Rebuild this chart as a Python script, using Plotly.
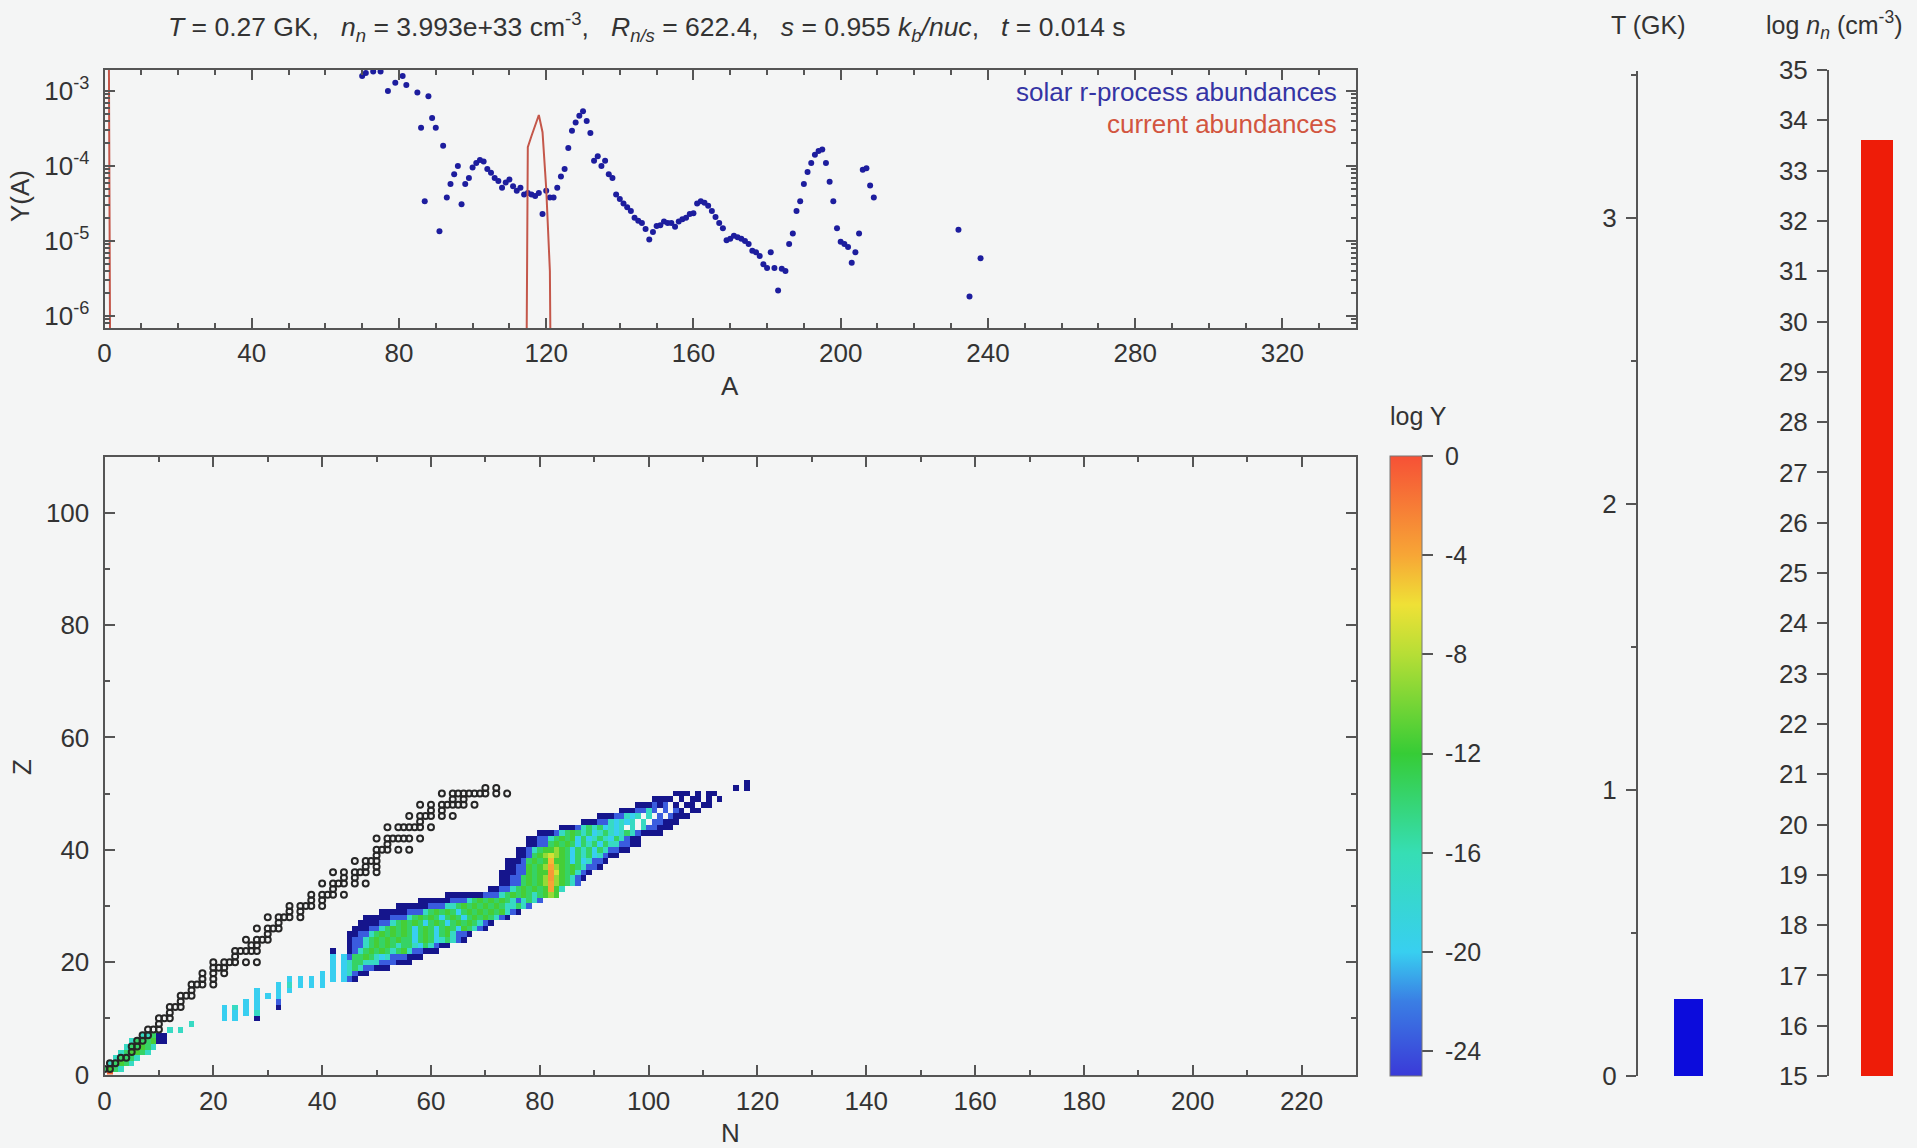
import math
import plotly.graph_objects as go

W, H = 1917, 1148
FONT = "Liberation Sans, Arial, Helvetica, sans-serif"
BG = "#f4f5f5"
AX = "#555555"
TXT = "#333333"

# ---------------- header quantities ----------------
T_GK = 0.27
NN_CM3 = 3.993e33
R_NS = 622.4
S_KB = 0.955
T_SEC = 0.014

# ---------------- solar r-process abundances (log10 Y) ----------------
SOLAR_A = [70, 71, 73, 75, 77, 79, 81, 82, 85, 86, 87, 88, 89, 90, 91, 92, 93, 94, 95, 96,
           97, 98, 99, 100, 101, 102, 103, 104, 105, 106, 107, 108, 109, 110, 111, 112, 113,
           114, 115, 116, 117, 118, 119, 120, 121, 122, 123, 124, 125, 126, 127, 128, 129,
           130, 131, 132, 133, 134, 135, 136, 137, 138, 139, 140, 141, 142, 143, 144, 145,
           146, 147, 148, 149, 150, 151, 152, 153, 154, 155, 156, 157, 158, 159, 160, 161,
           162, 163, 164, 165, 166, 167, 168, 169, 170, 171, 172, 173, 174, 175, 176, 177,
           178, 179, 180, 181, 182, 183, 184, 185, 186, 187, 188, 189, 190, 191, 192, 193,
           194, 195, 196, 197, 198, 199, 200, 201, 202, 203, 204, 205, 206, 207, 208, 209,
           232, 235, 238]
SOLAR_LOGY = [-2.80, -2.76, -2.74, -2.74, -3.00, -2.89, -2.80, -2.92, -3.02, -3.49, -4.47,
              -3.07, -3.36, -3.49, -4.87, -3.73, -4.42, -4.24, -4.11, -4.00, -4.51, -4.24,
              -4.16, -4.02, -3.96, -3.92, -3.94, -4.04, -4.09, -4.16, -4.20, -4.29, -4.22,
              -4.18, -4.27, -4.33, -4.29, -4.38, -4.36, -4.38, -4.40, -4.36, -4.64, -4.33,
              -4.42, -4.42, -4.29, -4.14, -4.04, -3.76, -3.53, -3.42, -3.33, -3.27, -3.40,
              -3.56, -3.93, -3.87, -4.00, -3.93, -4.11, -4.16, -4.38, -4.44, -4.50, -4.55,
              -4.60, -4.69, -4.73, -4.76, -4.84, -4.98, -4.88, -4.80, -4.79, -4.74, -4.76,
              -4.76, -4.81, -4.74, -4.71, -4.69, -4.64, -4.63, -4.50, -4.47, -4.49, -4.53,
              -4.60, -4.68, -4.76, -4.83, -4.99, -4.97, -4.93, -4.95, -4.97, -5.00, -5.04,
              -5.13, -5.15, -5.20, -5.31, -5.36, -5.15, -5.36, -5.66, -5.37, -5.40, -5.04,
              -4.90, -4.60, -4.47, -4.24, -4.08, -3.96, -3.85, -3.80, -3.78, -3.96, -4.21,
              -4.47, -4.83, -5.01, -5.04, -5.08, -5.29, -5.15, -4.90, -4.05, -4.03, -4.26,
              -4.42, -4.85, -5.74, -5.23]

# ---------------- current abundances (log10 Y) ----------------
CUR_A = [1, 2, 114, 115, 116, 117, 118, 119, 120, 121, 122]
CUR_LOGY = [-0.3, -12.0, -12.0, -3.75, -3.60, -3.45, -3.32, -3.55, -4.30, -5.40, -12.0]

# ---------------- nuclear chart: log Y per cell ----------------
LOGY_CODE = {"n": -27.0, "b": -23.5, "c": -20.0, "t": -17.0, "g": -13.5, "G": -11.5,
             "y": -9.0, "Y": -7.0, "O": -4.6, "o": -3.8, "r": -3.3, "R": -1.0}
# (Z, first N, one code per successive N; '.' = empty)
HEAT_ROWS = [
    (0, 1, "R"),
    (1, 0, "gGgt"),
    (2, 1, "tgGgt"),
    (3, 2, "tgggt"),
    (4, 3, "tgGGgt"),
    (5, 4, "tggGgt"),
    (6, 5, "tgggGnn"),
    (7, 7, "ttgnn"),
    (8, 12, "t.t"),
    (9, 16, "t"),
    (10, 22, "c.c...n"),
    (11, 22, "c.c.c.t"),
    (12, 22, "c.t.c.c...n"),
    (13, 26, "c.c...b"),
    (14, 28, "c.c.c"),
    (15, 28, "c...c.c"),
    (16, 32, "c.t.c.c.c"),
    (17, 34, "c.c.c.c.c.cbn"),
    (18, 40, "c.c.ctbnn"),
    (19, 42, "c.ctgtbbnnn"),
    (20, 42, "c.ctggtttbbbnnn"),
    (21, 42, "c.cbggGgtctbbbnnn"),
    (22, 42, "n..nbtgGgGgtgGtbbnnn"),
    (23, 45, "nbbtgGgGgtggtcgtbnn"),
    (24, 45, "nbbtgGgGgGggcgGgctgtbn"),
    (25, 45, "nnbbtgGgGgGgcgGgcgGtbbn"),
    (26, 46, "nnnbbtgGgGgcgGgcgGgcGgtbn"),
    (27, 47, "nnnnbbtgGgGgcgGgcgGgGgtbn"),
    (28, 48, "nnnnnbbbtgGgGgcgGgcgGgGgtbn"),
    (29, 51, "nnnnnbbbtgGgGgcgGgGgGgGtbn"),
    (30, 54, "nnnnnnbbbttgGgGgGgGgttgtb"),
    (31, 58, "nnnnnnbbbtgGgGgGgtbtgtb"),
    (32, 63, "nnnnnnnbbbtgGgGgtgGyG"),
    (33, 71, "nnbbtgGgGgGoGt"),
    (34, 73, "nnbbgGgGyoyGgtb"),
    (35, 73, "nnbbgGgGyryGgtbn"),
    (36, 73, "nnnbbGgGGrYGgGtbn"),
    (37, 74, "nnbbGgGyoyGgGgtbbn"),
    (38, 74, "nnnbgGgGOGGgcgctbbn"),
    (39, 76, "nnbgGyYyGgcgtgctbnn"),
    (40, 76, "nnbtgGGyGgcgtgcgtbbnn"),
    (41, 78, "nnbbgGgGgcgtgcgttbbnn"),
    (42, 78, "nnbbtgGgGcgctgtcgtbnn"),
    (43, 80, "nnnbtgGgtgctgtctgtbnnnn"),
    (44, 84, "nnnbtgtgctct.t.tbbnnn"),
    (45, 88, "nnnbbtctct.t.bbnnn"),
    (46, 91, "nnnbbtct.t.b.bnnn"),
    (47, 95, "nnnbbtb.b.bn.nn"),
    (48, 98, "nnnbnb.n.nn.nn"),
    (49, 101, "nnnn.n.nn.n.n"),
    (50, 105, "nnn.n.nn"),
    (51, 116, "n.n"),
    (52, 118, "n"),
]

# ---------------- stable nuclei (black circles) ----------------
STABLE_Z = list(range(1, 52))
STABLE_N = [[0, 1], [1, 2], [3, 4], [5], [5, 6], [6, 7], [7, 8], [8, 9, 10], [10], [10, 11, 12],
            [12], [12, 13, 14], [14], [14, 15, 16], [16], [16, 17, 18, 20], [18, 20], [18, 20, 22],
            [20, 21, 22], [20, 22, 23, 24, 26, 28], [24], [24, 25, 26, 27, 28], [27, 28],
            [26, 28, 29, 30], [30], [28, 30, 31, 32], [32], [30, 32, 33, 34, 36], [34, 36],
            [34, 36, 37, 38, 40], [38, 40], [38, 40, 41, 42, 44], [42], [40, 42, 43, 44, 46, 48],
            [44, 46], [42, 44, 46, 47, 48, 50], [48, 50], [46, 48, 49, 50], [50],
            [50, 51, 52, 54, 56], [52], [50, 52, 53, 54, 55, 56, 58], [],
            [52, 54, 55, 56, 57, 58, 60], [58], [56, 58, 59, 60, 62, 64], [60, 62],
            [58, 60, 62, 63, 64, 65, 66, 68], [64, 66], [62, 64, 65, 66, 67, 68, 69, 70, 72, 74],
            [70, 72]]

# ---------------- ticks ----------------
A_TICKS = [0, 40, 80, 120, 160, 200, 240, 280, 320]
Y_TICKS = [1e-6, 1e-5, 1e-4, 1e-3]
Y_TICKTEXT = ["10<sup>-6</sup>", "10<sup>-5</sup>", "10<sup>-4</sup>", "10<sup>-3</sup>"]
N_TICKS = list(range(0, 221, 20))
Z_TICKS = list(range(0, 101, 20))
CB_TICKS = [0, -4, -8, -12, -16, -20, -24]
T_TICKS = [0, 1, 2, 3]
NN_TICKS = list(range(15, 36))

# ---------------- build heat matrices ----------------
NMAX, ZMAX = 125, 55
z_main = [[None] * (NMAX + 1) for _ in range(ZMAX + 1)]
z_low = [[None] * (NMAX + 1) for _ in range(ZMAX + 1)]
for zz, n0, codes in HEAT_ROWS:
    for i, ch in enumerate(codes):
        if ch == ".":
            continue
        v = LOGY_CODE[ch]
        if v < -25:
            z_low[zz][n0 + i] = 1
        else:
            z_main[zz][n0 + i] = v

st_n, st_z = [], []
for zz, ns in zip(STABLE_Z, STABLE_N):
    for n in ns:
        st_n.append(n)
        st_z.append(zz)

COLORSCALE = [
    [0.00, "#3a3ad8"],
    [0.12, "#3a7ee4"],
    [0.20, "#38cff0"],
    [0.36, "#36deb4"],
    [0.52, "#36cc36"],
    [0.68, "#b6de36"],
    [0.76, "#efe136"],
    [0.84, "#f7a636"],
    [1.00, "#f65136"],
]

fig = go.Figure()

# top panel
fig.add_trace(go.Scatter(x=SOLAR_A, y=[10 ** v for v in SOLAR_LOGY], mode="markers",
                         marker=dict(size=6, color="#1d1d9e"), xaxis="x", yaxis="y",
                         showlegend=False))
fig.add_trace(go.Scatter(x=CUR_A, y=[10 ** v for v in CUR_LOGY], mode="lines",
                         line=dict(color="#c4574a", width=2), xaxis="x", yaxis="y",
                         showlegend=False))

# nuclear chart
NX = list(range(NMAX + 1))
ZY = list(range(ZMAX + 1))
NB = "\u00a0"
fig.add_trace(go.Heatmap(x=NX, y=ZY, z=z_low, colorscale=[[0, "#15158c"], [1, "#15158c"]],
                         showscale=False, xaxis="x2", yaxis="y2", hoverinfo="skip"))
fig.add_trace(go.Heatmap(x=NX, y=ZY, z=z_main, colorscale=COLORSCALE, zmin=-25, zmax=0,
                         xaxis="x2", yaxis="y2",
                         colorbar=dict(x=1390 / W, xanchor="left", xpad=0, ypad=0,
                                       y=1 - 1076 / H, yanchor="bottom",
                                       len=(1076 - 456) / H, lenmode="fraction",
                                       thickness=32, thicknessmode="pixels",
                                       outlinewidth=1, outlinecolor="#777",
                                       tickvals=CB_TICKS,
                                       ticktext=[NB + str(v) for v in CB_TICKS],
                                       ticks="outside", ticklen=11, tickwidth=2, tickcolor=AX,
                                       tickfont=dict(family=FONT, size=25, color=TXT))))
fig.add_trace(go.Scatter(x=st_n, y=st_z, mode="markers",
                         marker=dict(symbol="circle-open", size=6, color="#262626",
                                     line=dict(width=2, color="#262626")),
                         xaxis="x2", yaxis="y2", showlegend=False))

# T bar
fig.add_trace(go.Bar(x=[0.616], y=[T_GK], width=[0.354],
                     marker=dict(color="#0c0cdc", line=dict(width=0)),
                     xaxis="x3", yaxis="y3", showlegend=False))
# n_n bar
fig.add_trace(go.Bar(x=[0.593], y=[math.log10(NN_CM3) - 15], base=[15], width=[0.395],
                     marker=dict(color="#ee1c08", line=dict(width=0)),
                     xaxis="x4", yaxis="y4", showlegend=False))

tickfont = dict(family=FONT, size=26, color=TXT)
common = dict(showline=True, linecolor=AX, linewidth=2, showgrid=False, zeroline=False,
              tickcolor=AX, tickwidth=1.5, tickfont=tickfont, automargin=False)

xdom = [104.5 / W, 1356 / W]
fig.update_layout(
    template="none",
    width=W, height=H, autosize=False,
    margin=dict(l=0, r=0, t=0, b=0, pad=0, autoexpand=False),
    paper_bgcolor=BG, plot_bgcolor=BG,
    font=dict(family=FONT, color=TXT),
    bargap=0, showlegend=False,
    xaxis=dict(domain=xdom, anchor="y", range=[0, 340], tickmode="array", tickvals=A_TICKS,
               ticks="inside", ticklen=10, mirror="ticks", ticklabelstandoff=1,
               minor=dict(dtick=10, tick0=0, ticks="inside", ticklen=5, tickcolor=AX), **common),
    yaxis=dict(domain=[1 - 328 / H, 1 - 70 / H], anchor="x", type="log", range=[-6.16, -2.72],
               tickmode="array", tickvals=Y_TICKS, ticktext=Y_TICKTEXT,
               ticks="inside", ticklen=10, mirror="ticks", ticklabelstandoff=8,
               minor=dict(tickmode="array",
                          tickvals=[k * 10 ** e for e in range(-7, -2) for k in range(2, 10)],
                          ticks="inside", ticklen=5, tickcolor=AX), **common),
    xaxis2=dict(domain=xdom, anchor="y2", range=[0, 230], tickmode="array", tickvals=N_TICKS,
                ticks="inside", ticklen=10, mirror="ticks", ticklabelstandoff=2,
                minor=dict(dtick=10, tick0=0, ticks="inside", ticklen=5, tickcolor=AX), **common),
    yaxis2=dict(domain=[1 - 1074.5 / H, 1 - 456.5 / H], anchor="x2", range=[0, 110],
                tickmode="array", tickvals=Z_TICKS,
                ticks="inside", ticklen=10, mirror="ticks", ticklabelstandoff=8,
                minor=dict(dtick=10, tick0=0, ticks="inside", ticklen=5, tickcolor=AX), **common),
    xaxis3=dict(domain=[1638 / W, 1720 / W], anchor="y3", range=[0, 1], visible=False),
    yaxis3=dict(domain=[1 - 1076 / H, 1 - 71 / H], anchor="x3", range=[0, 3.515],
                tickmode="array", tickvals=T_TICKS, ticks="outside", ticklen=10,
                minor=dict(dtick=0.5, tick0=0, ticks="outside", ticklen=5, tickcolor=AX),
                ticklabelstandoff=4, **common),
    xaxis4=dict(domain=[1829 / W, 1910 / W], anchor="y4", range=[0, 1], visible=False),
    yaxis4=dict(domain=[1 - 1076 / H, 1 - 70 / H], anchor="x4", range=[15, 35],
                tickmode="array", tickvals=NN_TICKS, ticks="outside", ticklen=10,
                ticklabelstandoff=4, **common),
)

header = (f"<i>T</i> = {T_GK} GK,{NB*3}<i>n<sub>n</sub></i> = {NN_CM3:.3e} cm<sup>-3</sup>,{NB*3}"
          f"<i>R<sub>n/s</sub></i> = {R_NS},{NB*3}<i>s</i> = {S_KB} <i>k<sub>b</sub>/nuc</i>,{NB*3}"
          f"<i>t</i> = {T_SEC} s")


def ann(x, y, text, size=26, color=TXT, xanchor="center", angle=0):
    return dict(x=x / W, y=1 - y / H, xref="paper", yref="paper", text=text, showarrow=False,
                xanchor=xanchor, yanchor="middle", textangle=angle,
                font=dict(family=FONT, size=size, color=color))


fig.update_layout(annotations=[
    ann(647, 27, header, size=26.5),
    ann(1339, 92, "solar r-process abundances", size=26, color="#3434a4", xanchor="right"),
    ann(1339, 124, "current abundances", size=26, color="#d2553f", xanchor="right"),
    ann(730, 386, "A", size=26),
    ann(20, 196, "Y(A)", size=26, angle=-90),
    ann(730, 1133, "N", size=26),
    ann(22, 767, "Z", size=26, angle=-90),
    ann(1418, 416, "log Y", size=25),
    ann(1648, 25, "T (GK)", size=25),
    ann(1834, 25, "log <i>n<sub>n</sub></i> (cm<sup>-3</sup>)", size=25),
])

fig.write_html("out.html")
